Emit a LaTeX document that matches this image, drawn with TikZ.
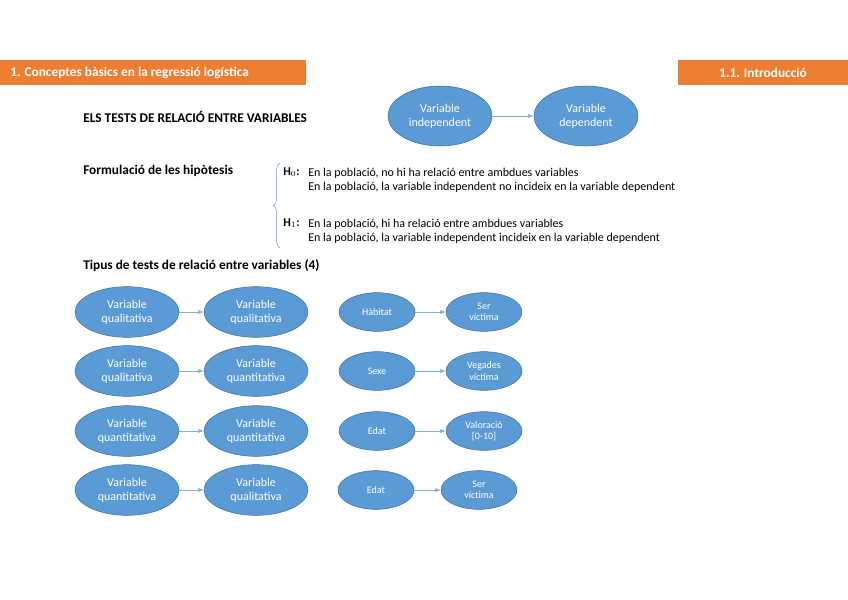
\documentclass[tikz,border=0pt]{standalone}
\usepackage{fontspec}
\setmainfont{Carlito}
\usetikzlibrary{arrows.meta,positioning,shapes.geometric,decorations.pathreplacing}
\definecolor{hdr}{HTML}{ED7D31}
\definecolor{ell}{HTML}{5B9BD5}
\definecolor{ellb}{HTML}{41719C}
\begin{document}
\begin{tikzpicture}[x=0.75pt,y=-0.75pt, font=\fontsize{9}{10.5}\selectfont,
  line/.style={-{Latex[length=4pt,width=3pt]},ell!80!white,thin},
  bar/.style={fill=hdr,text=white,font=\fontsize{10}{12}\selectfont\bfseries,inner sep=0pt},
  big/.style={ellipse,draw=ellb,fill=ell,text=white,minimum width=78pt,minimum height=38pt,inner sep=0pt,align=center},
  small/.style={ellipse,draw=ellb,fill=ell,text=white,minimum width=57pt,minimum height=29pt,inner sep=0pt,align=center,font=\fontsize{7.5}{8.5}\selectfont},
  title/.style={anchor=west,font=\fontsize{10}{12}\selectfont\bfseries,inner sep=0pt}]
\useasboundingbox (0,0) rectangle (848,599);
% headers
\fill[hdr] (0,60) rectangle (306,85);
\fill[hdr] (678,60) rectangle (848,85);
\node[bar,anchor=west] (hleft) at (10,72.5) {1. Conceptes bàsics en la regressió logística};
\node[bar] (hright) at (763,72.5) {1.1. Introducció};
% intro
\node[title] (t1) at (83,117) {ELS TESTS DE RELACIÓ ENTRE VARIABLES};
\node[big,minimum width=78pt,minimum height=45pt] (ind) at (440,116) {Variable\\independent};
\node[big,minimum width=78pt,minimum height=45pt] (dep) at (586,116) {Variable\\dependent};
\draw[line] (ind) -- (dep);
% hypotheses
\node[title] (t2) at (83,171) {Formulació de les hipòtesis};
\draw[ell,decorate,decoration={brace,amplitude=5pt}] (280,248) -- (280,163);
\node[anchor=west,inner sep=0pt] (h0) at (283,172) {\textbf{H$_0$:}};
\node[anchor=west,inner sep=0pt,align=left] (h0t) at (308,180.5) {En la població, no hi ha relació entre ambdues variables\\En la població, la variable independent no incideix en la variable dependent};
\node[anchor=west,inner sep=0pt] (h1) at (283,223) {\textbf{H$_1$:}};
\node[anchor=west,inner sep=0pt,align=left] (h1t) at (308,231.5) {En la població, hi ha relació entre ambdues variables\\En la població, la variable independent incideix en la variable dependent};
% types
\node[title] (t3) at (83,266) {Tipus de tests de relació entre variables (4)};
\foreach \y/\a/\b [count=\i] in {312/qualitativa/qualitativa,371/qualitativa/quantitativa,431/quantitativa/quantitativa,490/quantitativa/qualitativa}{
  \node[big] (a\i) at (127,\y) {Variable\\\a};
  \node[big] (b\i) at (256,\y) {Variable\\\b};
  \draw[line] (a\i) -- (b\i);
}
\foreach \y/\xa/\xb/\a/\b [count=\i] in {312/377/484/Hàbitat/{Ser\\víctima},371/377/484/Sexe/{Vegades\\víctima},431/377/484/Edat/{Valoració\\{[0-10]}},490/376/479/Edat/{Ser\\víctima}}{
  \node[small] (c\i) at (\xa,\y) {\a};
  \node[small] (d\i) at (\xb,\y) {\b};
  \draw[line] (c\i) -- (d\i);
}
\end{tikzpicture}
\end{document}
